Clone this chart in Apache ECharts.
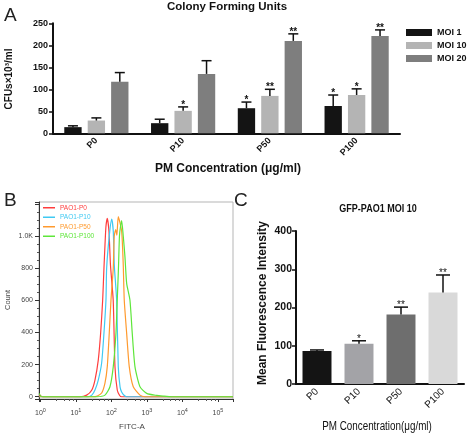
<!DOCTYPE html>
<html><head><meta charset="utf-8">
<script src="https://cdn.jsdelivr.net/npm/echarts@6/dist/echarts.min.js"></script>
<style>html,body{margin:0;padding:0;background:#fff}#c{width:472px;height:435px}</style>
</head><body><div id="c"></div>
<script>
// ---------- Panel A data ----------
const categoriesA = ['P0', 'P10', 'P50', 'P100'];
const seriesNamesA = ['MOI 1', 'MOI 10', 'MOI 20'];
const moi1 = [14, 23, 57, 62];
const moi1Err = [17, 32, 71, 87];
const moi10 = [29, 51, 85, 87];
const moi10Err = [35, 60, 100, 101];
const moi20 = [117, 135, 210, 221];
const moi20Err = [138, 165, 226, 235];
const moi1Stars = ['', '', '*', '*'];
const moi10Stars = ['', '*', '**', '*'];
const moi20Stars = ['', '', '**', '**'];

// ---------- Panel B data (FITC-A value, count) ----------
const histNames = ['PAO1-P0', 'PAO1-P10', 'PAO1-P50', 'PAO1-P100'];
const histP0 = [[0.92,14],[1.05,2],[1.3,0],[13,0],[20,10],[27.7,40],[34.3,104],[42.5,228],[49.6,396],[56.5,600],[61.5,800],[65.6,940],[70,1060],[76.2,1110],[85,1030],[93.7,820],[112,600],[125.6,187],[145.6,42],[170,8],[194,0],[265000,0]];
const histP10 = [[0.92,0],[22.2,0],[28,10],[34.3,42],[42.5,104],[52.9,210],[61.5,396],[70,600],[73.2,800],[86.7,1000],[101.4,1105],[112.4,1030],[120,820],[140,600],[155.5,187],[175,60],[193.6,30],[230,8],[268,0],[265000,0]];
const histP50 = [[0.92,0],[30,0],[40,5],[52.9,23],[65.6,85],[76.2,187],[86.7,396],[96.8,600],[112.4,800],[120,1000],[132,1040],[142,1005],[155.5,1120],[193.6,1030],[214.8,820],[229.4,600],[268,394],[317,187],[411,62],[635,10],[879,0],[265000,0]];
const histP100 = [[0.92,20],[1.02,4],[1.2,0],[38.3,0],[65.6,10],[90.7,62],[112.4,187],[134,396],[145.6,600],[157.4,800],[168,1000],[180,1060],[193.6,1095],[214.8,1000],[240,870],[268,705],[332,600],[385,394],[459,187],[635,62],[982,21],[1876,8],[2824,4],[5000,0],[265000,0]];

// ---------- Panel C data ----------
const categoriesC = ['P0', 'P10', 'P50', 'P100'];
const mfi = [86, 105, 182, 239];
const mfiErr = [89, 113, 201, 285];
const mfiStars = ['', '*', '**', '**'];

// ---------- styles ----------
const colorsA = ['#141414', '#b4b4b4', '#7e7e7e'];
const colorsB = ['#ff3d3d', '#3fc9f2', '#ff9a2e', '#5ee63a'];
const colorsC = ['#141414', '#a3a3a7', '#6e6e6e', '#d9d9d9'];
const FA = '"Liberation Sans", Arial, sans-serif';

const gapA = 0.26, barGapA = 0.35;
const gapC = 0.31;

function errRenderer(idx, nSeries, catGap, barGap, stars, capHalf, font, starDy) {
  return function (params, api) {
    const xi = api.value(0), v = api.value(1), e = api.value(2);
    const p0 = api.coord([xi, v]);
    const p1 = api.coord([xi, e]);
    const band = api.size([1, 0])[0];
    const total = band * (1 - catGap);
    const bw = total / (nSeries + (nSeries - 1) * barGap);
    const cx = p0[0] - total / 2 + bw / 2 + idx * bw * (1 + barGap);
    const children = [
      { type: 'line', shape: { x1: cx, y1: p0[1], x2: cx, y2: p1[1] }, style: { stroke: '#111', lineWidth: 1.5 } },
      { type: 'line', shape: { x1: cx - capHalf, y1: p1[1], x2: cx + capHalf, y2: p1[1] }, style: { stroke: '#111', lineWidth: 1.5 } }
    ];
    const s = stars[params.dataIndex];
    if (s) {
      children.push({ type: 'text', style: { text: s, x: cx, y: p1[1] - starDy, align: 'center', verticalAlign: 'middle', font: font, fill: '#111' } });
    }
    return { type: 'group', children: children };
  };
}

const aVals = [moi1, moi10, moi20];
const aErrs = [moi1Err, moi10Err, moi20Err];
const aStars = [moi1Stars, moi10Stars, moi20Stars];

const series = [];
seriesNamesA.forEach((n, i) => {
  series.push({
    name: n, type: 'bar', xAxisIndex: 0, yAxisIndex: 0, data: aVals[i],
    itemStyle: { color: colorsA[i] }, barGap: (barGapA * 100) + '%', barCategoryGap: (gapA * 100) + '%',
    animation: false
  });
});
seriesNamesA.forEach((n, i) => {
  series.push({
    type: 'custom', xAxisIndex: 0, yAxisIndex: 0, animation: false, z: 5,
    renderItem: errRenderer(i, 3, gapA, barGapA, aStars[i], 5, 'bold 10px ' + FA, 2),
    data: aVals[i].map((v, k) => [k, v, aErrs[i][k]])
  });
});
const histData = [histP0, histP10, histP50, histP100];
histNames.forEach((n, i) => {
  series.push({
    name: n, type: 'line', xAxisIndex: 1, yAxisIndex: 1, data: histData[i],
    showSymbol: false, smooth: 0.2, animation: false,
    lineStyle: { color: colorsB[i], width: 1.2 }, itemStyle: { color: colorsB[i] }
  });
});
series.push({
  type: 'bar', xAxisIndex: 2, yAxisIndex: 2, animation: false, barCategoryGap: (gapC * 100) + '%',
  data: mfi.map((v, i) => ({ value: v, itemStyle: { color: colorsC[i] } }))
});
series.push({
  type: 'custom', xAxisIndex: 2, yAxisIndex: 2, animation: false, z: 5,
  renderItem: errRenderer(0, 1, gapC, 0, mfiStars, 7, '10px ' + FA, 2),
  data: mfi.map((v, k) => [k, v, mfiErr[k]])
});

const chart = echarts.init(document.getElementById('c'), null, { renderer: 'canvas' });
chart.setOption({
  animation: false,
  backgroundColor: '#fff',
  grid: [
    { left: 53, right: 72, top: 23.3, bottom: 301.7 },
    { left: 39, right: 239, top: 202, bottom: 36, show: true, borderColor: '#b5b5b5', borderWidth: 1, backgroundColor: 'transparent' },
    { left: 296, right: 8, top: 231, bottom: 51 }
  ],
  legend: [
    {
      data: seriesNamesA, orient: 'vertical', left: 406, top: 27, padding: 0, itemWidth: 26, itemHeight: 7, itemGap: 2,
      icon: 'rect', selectedMode: false,
      textStyle: { fontFamily: FA, fontWeight: 'bold', fontSize: 9, color: '#111', lineHeight: 11 }
    },
    {
      data: histNames.map((n, i) => ({ name: n, textStyle: { color: colorsB[i] } })),
      orient: 'vertical', left: 43, top: 204, padding: 0, itemWidth: 12, itemHeight: 1.5, itemGap: 2, icon: 'rect',
      selectedMode: false, textStyle: { fontFamily: FA, fontSize: 6.5, lineHeight: 7.5 }
    }
  ],
  xAxis: [
    {
      type: 'category', gridIndex: 0, data: categoriesA,
      axisLine: { lineStyle: { color: '#111', width: 2 } },
      axisTick: { alignWithLabel: true, length: 4, lineStyle: { color: '#111', width: 1.5 } },
      axisLabel: { rotate: 45, margin: 6, fontFamily: FA, fontWeight: 'bold', fontSize: 9, color: '#111' }
    },
    {
      type: 'log', gridIndex: 1, logBase: 10, min: 0.91, max: 265000,
      axisLine: { onZero: false, lineStyle: { color: '#333', width: 1 } },
      axisTick: { length: 3, lineStyle: { color: '#333' } },
      minorTick: { show: true, splitNumber: 5, length: 2, lineStyle: { color: '#555' } },
      splitLine: { show: false },
      axisLabel: {
        showMinLabel: false, showMaxLabel: false, margin: 8, color: '#444',
        formatter: function (v) {
          const e = Math.log10(v);
          if (Math.abs(e - Math.round(e)) > 1e-6) return '';
          return '{b|10}{s|' + Math.round(e) + '}';
        },
        rich: {
          b: { fontFamily: FA, fontSize: 7, color: '#444' },
          s: { fontFamily: FA, fontSize: 5.5, color: '#444', verticalAlign: 'bottom', padding: [0, 0, 6, 0] }
        }
      }
    },
    {
      type: 'category', gridIndex: 2, data: categoriesC,
      axisLine: { lineStyle: { color: '#111', width: 2 } },
      axisTick: { alignWithLabel: true, length: 4, lineStyle: { color: '#111', width: 1.5 } },
      axisLabel: { rotate: 45, margin: 6, fontFamily: FA, fontSize: 10, color: '#111' }
    }
  ],
  yAxis: [
    {
      type: 'value', gridIndex: 0, min: 0, max: 250, interval: 50,
      axisLine: { show: true, lineStyle: { color: '#111', width: 2 } },
      axisTick: { show: true, length: 4, lineStyle: { color: '#111', width: 1.5 } },
      splitLine: { show: false },
      axisLabel: { margin: 5, fontFamily: FA, fontWeight: 'bold', fontSize: 9, color: '#111' }
    },
    {
      type: 'value', gridIndex: 1, min: -14, max: 1211, splitNumber: 6,
      axisLine: { show: true, onZero: false, lineStyle: { color: '#333', width: 1 } },
      axisTick: { show: true, length: 4, lineStyle: { color: '#333' } },
      minorTick: { show: true, splitNumber: 4, length: 2, lineStyle: { color: '#555' } },
      splitLine: { show: false },
      axisLabel: {
        showMinLabel: false, showMaxLabel: false, margin: 6, fontFamily: FA, fontSize: 7, color: '#444',
        formatter: function (v) { if (v === 1000) return '1.0K'; if (v < 0 || v > 1000) return ''; return String(v); }
      }
    },
    {
      type: 'value', gridIndex: 2, min: 0, max: 400, interval: 100,
      axisLine: { show: true, lineStyle: { color: '#111', width: 2 } },
      axisTick: { show: true, length: 4, lineStyle: { color: '#111', width: 1.5 } },
      splitLine: { show: false },
      axisLabel: { margin: 4, fontFamily: FA, fontWeight: 'bold', fontSize: 10.5, color: '#111' }
    }
  ],
  graphic: [
    { type: 'text', x: 4, y: 6, style: { text: 'A', font: '19px ' + FA, fill: '#222' } },
    { type: 'text', x: 4, y: 191, style: { text: 'B', font: '19px ' + FA, fill: '#222' } },
    { type: 'text', x: 234, y: 191, style: { text: 'C', font: '19px ' + FA, fill: '#222' } },
    { type: 'text', x: 227, y: 7, style: { text: 'Colony Forming Units', align: 'center', verticalAlign: 'middle', font: 'bold 11.5px ' + FA, fill: '#111' } },
    { type: 'text', x: 9, y: 79, rotation: Math.PI / 2, style: { text: 'CFUs×10³/ml', align: 'center', verticalAlign: 'middle', font: 'bold 10px ' + FA, fill: '#111' } },
    { type: 'text', x: 155, y: 169, style: { text: 'PM Concentration (μg/ml)', align: 'left', verticalAlign: 'middle', font: 'bold 12px ' + FA, fill: '#111' } },
    { type: 'text', x: 7.5, y: 300, rotation: Math.PI / 2, style: { text: 'Count', align: 'center', verticalAlign: 'middle', font: '7.5px ' + FA, fill: '#444' } },
    { type: 'text', x: 132, y: 427, style: { text: 'FITC-A', align: 'center', verticalAlign: 'middle', font: '8px ' + FA, fill: '#444' } },
    { type: 'text', x: 378, y: 209, scaleX: 0.82, style: { text: 'GFP-PAO1 MOI 10', align: 'center', verticalAlign: 'middle', font: 'bold 11px ' + FA, fill: '#111' } },
    { type: 'text', x: 263, y: 303, rotation: Math.PI / 2, style: { text: 'Mean Fluorescence Intensity', align: 'center', verticalAlign: 'middle', font: 'bold 12px ' + FA, fill: '#111' } },
    { type: 'text', x: 377, y: 427, scaleX: 0.82, style: { text: 'PM Concentration(μg/ml)', align: 'center', verticalAlign: 'middle', font: '12px ' + FA, fill: '#111' } }
  ],
  series: series
});
</script>
</body></html>
